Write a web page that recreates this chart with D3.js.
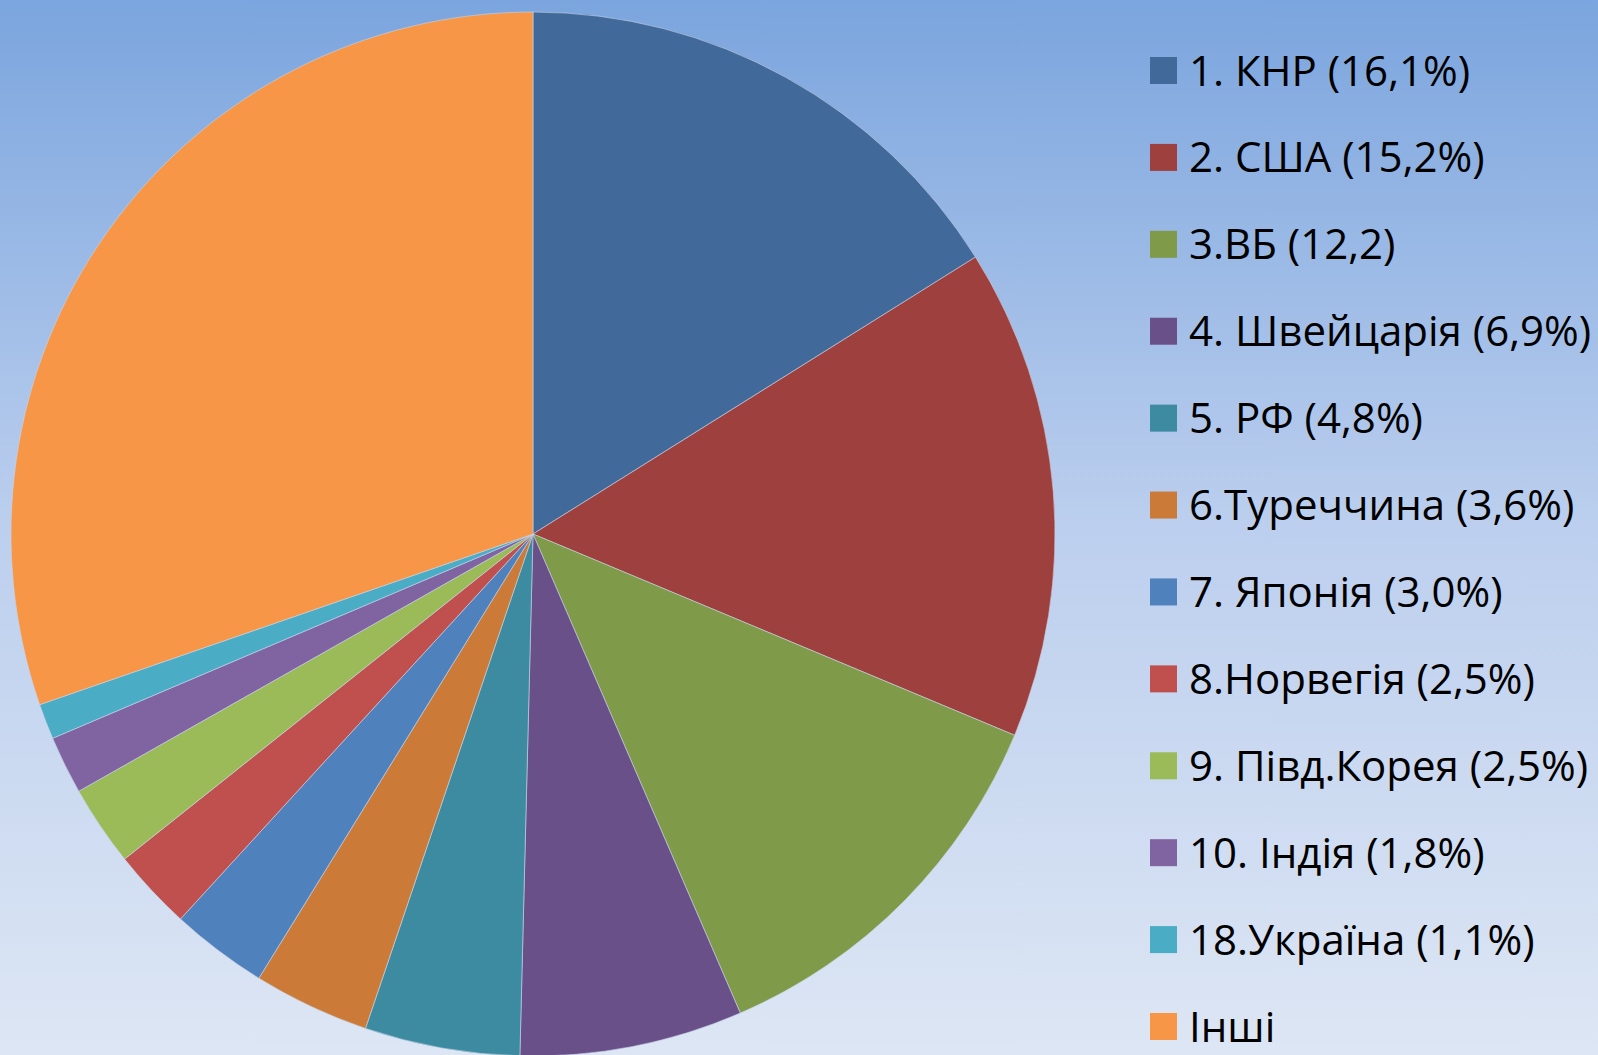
<div id="graphic"></div>
<script src="https://d3js.org/d3.v7.min.js" charset="utf-8"></script>
<style>
  body { margin: 0; overflow: hidden; }
</style>
<script>
// shares of world exports, %
var labels = ["1. КНР (16,1%)", "2. США (15,2%)", "3.ВБ (12,2)", "4. Швейцарія (6,9%)", "5. РФ (4,8%)",
              "6.Туреччина (3,6%)", "7. Японія (3,0%)", "8.Норвегія (2,5%)", "9. Півд.Корея (2,5%)",
              "10. Індія (1,8%)", "18.Україна (1,1%)", "Інші"];
var values = [16.1, 15.2, 12.2, 6.9, 4.8, 3.6, 3.0, 2.5, 2.5, 1.8, 1.1, 30.3];
var colors = ["#416a9b", "#9e413e", "#7f9a48", "#6a5088", "#3c8ba0", "#cb7b37",
              "#4f81bd", "#c0504d", "#9bbb59", "#8064a2", "#4bacc6", "#f79646"];

var width = 1598, height = 1055;

var svg = d3.select("#graphic").append("svg")
    .attr("width", width)
    .attr("height", height);

// background gradient
var grad = svg.append("defs").append("linearGradient")
    .attr("id", "bg")
    .attr("x1", 0).attr("y1", 0).attr("x2", 0).attr("y2", 1);
grad.append("stop").attr("offset", "0%").attr("stop-color", "#7ba5de");
grad.append("stop").attr("offset", "50%").attr("stop-color", "#bccfee");
grad.append("stop").attr("offset", "100%").attr("stop-color", "#dde6f4");

svg.append("rect")
    .attr("width", width)
    .attr("height", height)
    .attr("fill", "url(#bg)");

var data = labels.map(function (d, i) {
    return { label: d, value: values[i], color: colors[i] };
});

var radius = 522;
var pie = d3.pie().sort(null).value(function (d) { return d.value; });
var arc = d3.arc().innerRadius(0).outerRadius(radius);

var g = svg.append("g")
    .attr("transform", "translate(533,534)");

g.selectAll("path")
    .data(pie(data))
    .enter()
    .append("path")
    .attr("d", arc)
    .attr("fill", function (d) { return d.data.color; })
    .style("stroke", "#c9d5ea")
    .style("stroke-width", "0.6");

// legend
var y = d3.scalePoint()
    .domain(labels)
    .range([70.5, 1026.5]);

var legend = svg.append("g")
    .style("font-family", '"Open Sans", sans-serif')
    .style("font-size", "42px");

var items = legend.selectAll(".item")
    .data(data)
    .enter()
    .append("g")
    .attr("class", "item")
    .attr("transform", function (d) { return "translate(1150," + y(d.label) + ")"; });

items.append("rect")
    .attr("x", 0)
    .attr("y", -13.5)
    .attr("width", 27)
    .attr("height", 27)
    .attr("fill", function (d) { return d.color; });

items.append("text")
    .attr("x", 39)
    .attr("y", 15)
    .attr("fill", "#000")
    .text(function (d) { return d.label; });
</script>
